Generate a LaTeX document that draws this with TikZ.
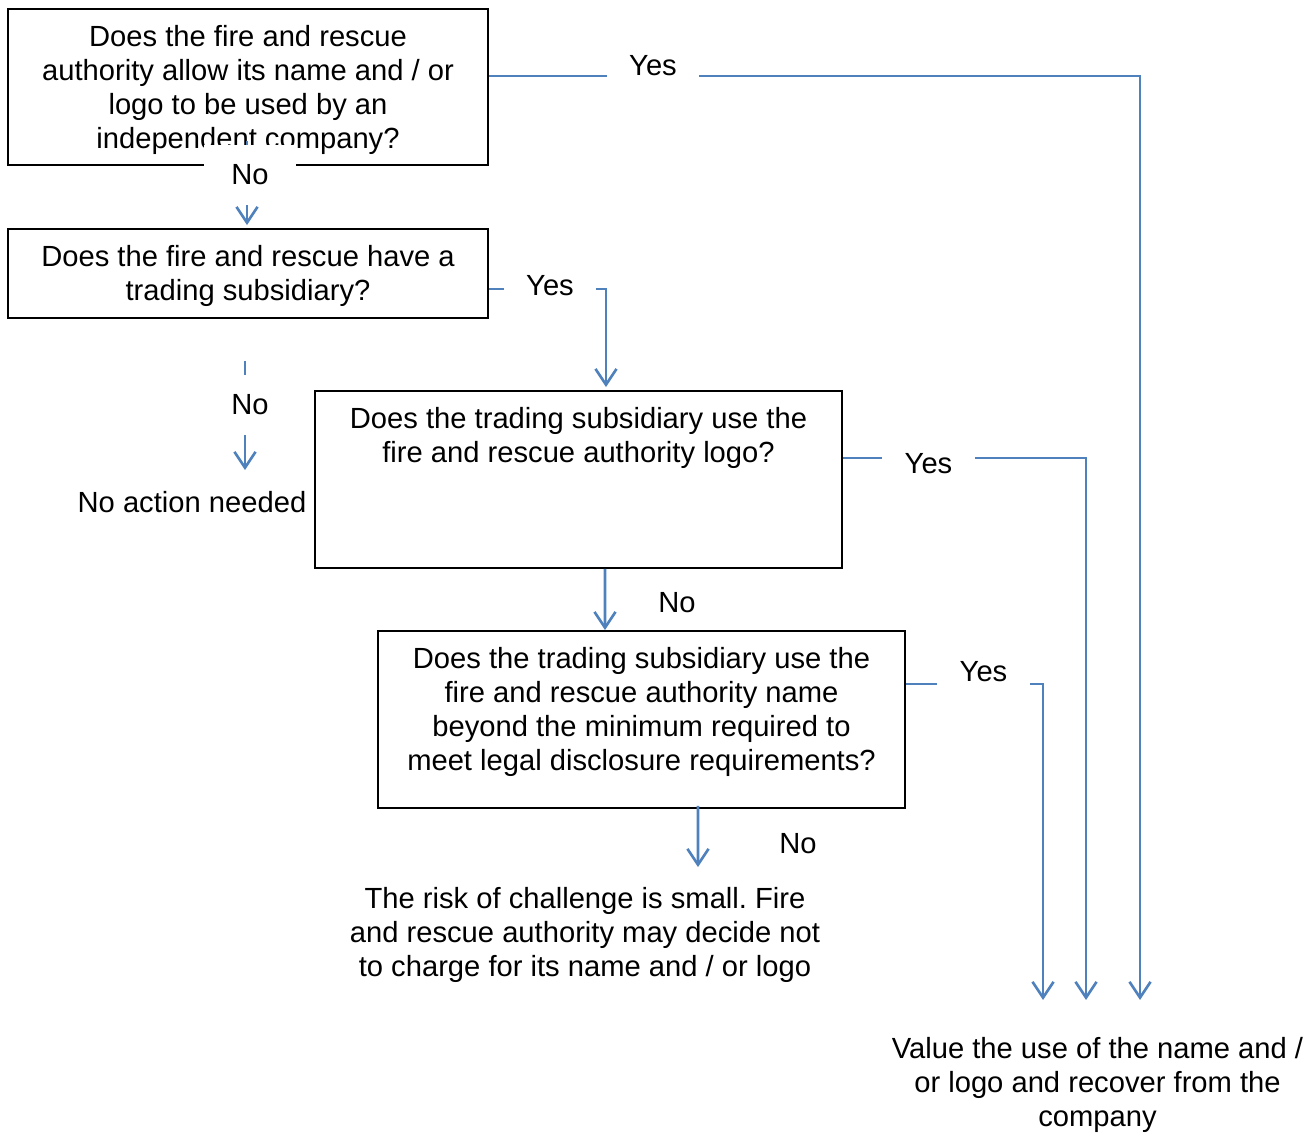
\documentclass[tikz,border=0pt]{standalone}
\usepackage{fontspec}
\setmainfont{Liberation Sans}
\usetikzlibrary{arrows.meta,calc}
\definecolor{linkblue}{HTML}{4F81BD}
\newcommand{\chartfont}{\fontsize{16.6}{19.35}\selectfont}
\frenchspacing

\begin{document}
\begin{tikzpicture}[x=0.02cm,y=-0.02cm,
  qbox/.style={draw,line width=1.1pt,inner sep=0},
  qtext/.style={align=center,anchor=north,inner sep=0,font=\chartfont},
  endtext/.style={align=center,anchor=north,inner xsep=0,font=\chartfont},
  link/.style={draw=linkblue,line width=1.5pt,-{Straight Barb[length=9pt,width=12pt]}},
  lab/.style={fill=white,font=\chartfont,minimum width=1.86cm,minimum height=1.2cm,inner sep=0},
  offlab/.style={font=\chartfont,inner sep=0}]
\useasboundingbox (0,0) rectangle (1316,1133);

% question boxes
\node[qbox,minimum width=9.6cm,minimum height=3.12cm] (q1) at (248,87) {};
\node[qbox,minimum width=9.6cm,minimum height=1.78cm] (q2) at (248,273.5) {};
\node[qbox,minimum width=10.54cm,minimum height=3.54cm] (q3) at (578.5,479.5) {};
\node[qbox,minimum width=10.54cm,minimum height=3.54cm] (q4) at (641.5,719.5) {};

\node[qtext] (t1) at ($(q1.north)+(0,17)$) {Does the fire and rescue\\authority allow its name and / or\\logo to be used by an\\independent company?};
\node[qtext] (t2) at ($(q2.north)+(0,17)$) {Does the fire and rescue have a\\trading subsidiary?};
\node[qtext] (t3) at ($(q3.north)+(0,17)$) {Does the trading subsidiary use the\\fire and rescue authority logo?};
\node[qtext] (t4) at ($(q4.north)+(0,17)$) {Does the trading subsidiary use the\\fire and rescue authority name\\beyond the minimum required to\\meet legal disclosure requirements?};

% outcomes
\node[endtext,inner ysep=0.42cm] (none) at (192,470) {No action needed};
\node[endtext,inner ysep=0.4cm] (risk) at (585,867) {The risk of challenge is small. Fire\\and rescue authority may decide not\\to charge for its name and / or logo};
\node[endtext,inner ysep=0.74cm] (value) at (1097.5,1000) {Value the use of the name and /\\or logo and recover from the\\company};

% connectors
\draw[link] ($(q1.east)+(0,-11)$) -| ($(value.north)+(42.5,0)$);
\draw[link] ($(q1.south)+(-1,-25)$) -- ($(q2.north)+(-1,-3)$);
\draw[link] ($(q2.east)+(0,15.5)$) -| ($(q3.north)+(27.5,-3)$);
\draw[link] ($(q2.south)+(-3,42)$) -- ($(none.north)+(53,0)$);
\draw[link] ($(q3.east)+(0,-21.5)$) -| ($(value.north)+(-11.5,0)$);
\draw[link] ($(q3.south)+(26.5,0)$) -- ($(q4.north)+(-36.5,0)$);
\draw[link] ($(q4.east)+(0,-35.5)$) -| ($(value.north)+(-54.5,0)$);
\draw[link] ($(q4.south)+(56.5,-3)$) -- ($(risk.north)+(113,0)$);

% labels
\node[lab] (y1) at (653,66) {Yes};
\node[lab] (y2) at (550,286) {Yes};
\node[lab] (y3) at (928.5,464) {Yes};
\node[lab] (y4) at (983.5,672) {Yes};
\node[lab] (n1) at (250,175) {No};
\node[lab] (n2) at (250,405) {No};
\node[offlab] (n3) at (677,603) {No};
\node[offlab] (n4) at (798,844) {No};
\end{tikzpicture}
\end{document}
